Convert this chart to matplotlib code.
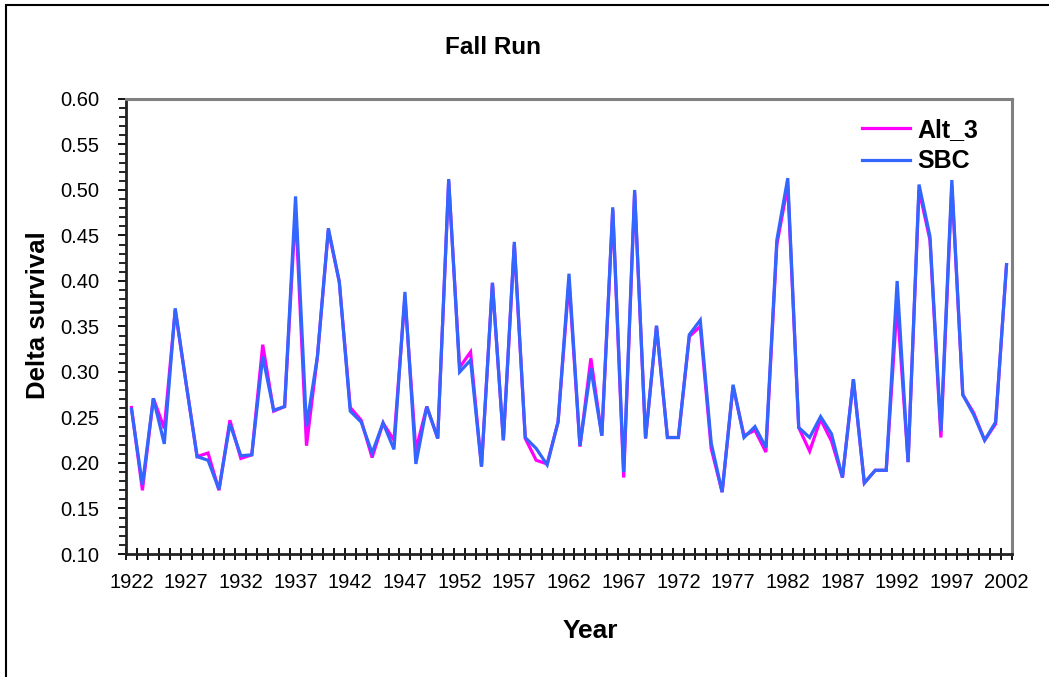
import matplotlib
matplotlib.use("Agg")
import matplotlib.pyplot as plt
import numpy as np
from matplotlib.ticker import MultipleLocator, FormatStrFormatter
from matplotlib.patches import Rectangle

plt.rcParams['font.family'] = ['Liberation Sans', 'DejaVu Sans']

years = list(range(1922, 2003))

sbc = [0.259, 0.176, 0.271, 0.221, 0.370, 0.287, 0.207, 0.203, 0.171, 0.243,
       0.208, 0.209, 0.317, 0.258, 0.262, 0.493, 0.240, 0.317, 0.458, 0.399,
       0.257, 0.245, 0.211, 0.244, 0.215, 0.388, 0.199, 0.262, 0.227, 0.512,
       0.300, 0.313, 0.196, 0.398, 0.225, 0.443, 0.228, 0.216, 0.198, 0.245,
       0.408, 0.219, 0.304, 0.230, 0.481, 0.190, 0.500, 0.227, 0.351, 0.228,
       0.228, 0.341, 0.357, 0.222, 0.168, 0.286, 0.228, 0.240, 0.217, 0.445,
       0.513, 0.239, 0.228, 0.251, 0.232, 0.184, 0.292, 0.178, 0.192, 0.192,
       0.400, 0.201, 0.506, 0.449, 0.235, 0.511, 0.275, 0.253, 0.225, 0.245,
       0.418]

alt3 = [0.261, 0.170, 0.271, 0.238, 0.368, 0.287, 0.207, 0.211, 0.170, 0.247,
        0.205, 0.209, 0.330, 0.257, 0.262, 0.478, 0.219, 0.317, 0.456, 0.399,
        0.261, 0.247, 0.206, 0.244, 0.225, 0.382, 0.214, 0.262, 0.227, 0.510,
        0.305, 0.322, 0.196, 0.398, 0.225, 0.440, 0.227, 0.203, 0.199, 0.245,
        0.400, 0.218, 0.315, 0.230, 0.478, 0.184, 0.497, 0.227, 0.350, 0.228,
        0.228, 0.339, 0.350, 0.216, 0.168, 0.284, 0.230, 0.236, 0.212, 0.440,
        0.505, 0.239, 0.213, 0.248, 0.224, 0.184, 0.292, 0.178, 0.192, 0.192,
        0.375, 0.201, 0.500, 0.445, 0.228, 0.505, 0.275, 0.255, 0.225, 0.243,
        0.418]

label_years = list(range(1922, 2003, 5))

W, H = 1049, 677
fig = plt.figure(figsize=(W / 100, H / 100), dpi=100)
fig.patch.set_facecolor('white')

# outer chart frame
fig.patches.append(Rectangle((6 / W, -0.1), 1.2, 1 - 5 / H + 0.1, transform=fig.transFigure,
                             fill=False, edgecolor='black', linewidth=1.5, zorder=0))

ax = fig.add_axes([126 / W, 1 - 554 / H, (1012 - 126) / W, (554 - 99) / H])

ax.plot(years, alt3, color='#FF00FF', linewidth=2.3, label='Alt_3', solid_joinstyle='miter')
ax.plot(years, sbc, color='#3366FF', linewidth=2.3, label='SBC', solid_joinstyle='miter')

ax.set_xlim(1921.5, 2002.5)
ax.set_ylim(0.10, 0.60)

ax.yaxis.set_major_locator(MultipleLocator(0.05))
ax.yaxis.set_minor_locator(MultipleLocator(0.01))
ax.yaxis.set_major_formatter(FormatStrFormatter('%.2f'))
ax.tick_params(axis='y', which='major', direction='out', length=6, width=1.3,
               labelsize=14.5, pad=13)
ax.tick_params(axis='y', which='minor', direction='out', length=5, width=1.2)

ax.set_xticks(label_years)
ax.set_xticklabels([str(y) for y in label_years])
ax.set_xticks(np.arange(1921.5, 2003.0, 1.0), minor=True)
ax.tick_params(axis='x', which='major', length=0, labelsize=14.5, pad=14)
ax.tick_params(axis='x', which='minor', direction='inout', length=9, width=1.3)

for s in ['left', 'bottom']:
    ax.spines[s].set_color('#222222')
    ax.spines[s].set_linewidth(2)
for s in ['top', 'right']:
    ax.spines[s].set_color('#808080')
    ax.spines[s].set_linewidth(2.2)

fig.text(38 / W, 1 - 315 / H, 'Delta survival', ha='center', va='center',
         rotation=90, fontsize=18.5, fontweight='bold')
fig.text(590 / W, 1 - 631 / H, 'Year', ha='center', va='center',
         fontsize=19, fontweight='bold')
fig.text(493 / W, 1 - 47 / H, 'Fall Run', ha='center', va='center',
         fontsize=17.5, fontweight='bold')

leg = ax.legend(loc='upper left', bbox_to_anchor=(862 / W, 1 - 118 / H),
                bbox_transform=fig.transFigure, frameon=False,
                prop={'size': 18, 'weight': 'bold'}, handlelength=1.9,
                handletextpad=0.3, labelspacing=0.3, borderpad=0, borderaxespad=0)

fig.savefig('out.png', dpi=100, facecolor='white')
